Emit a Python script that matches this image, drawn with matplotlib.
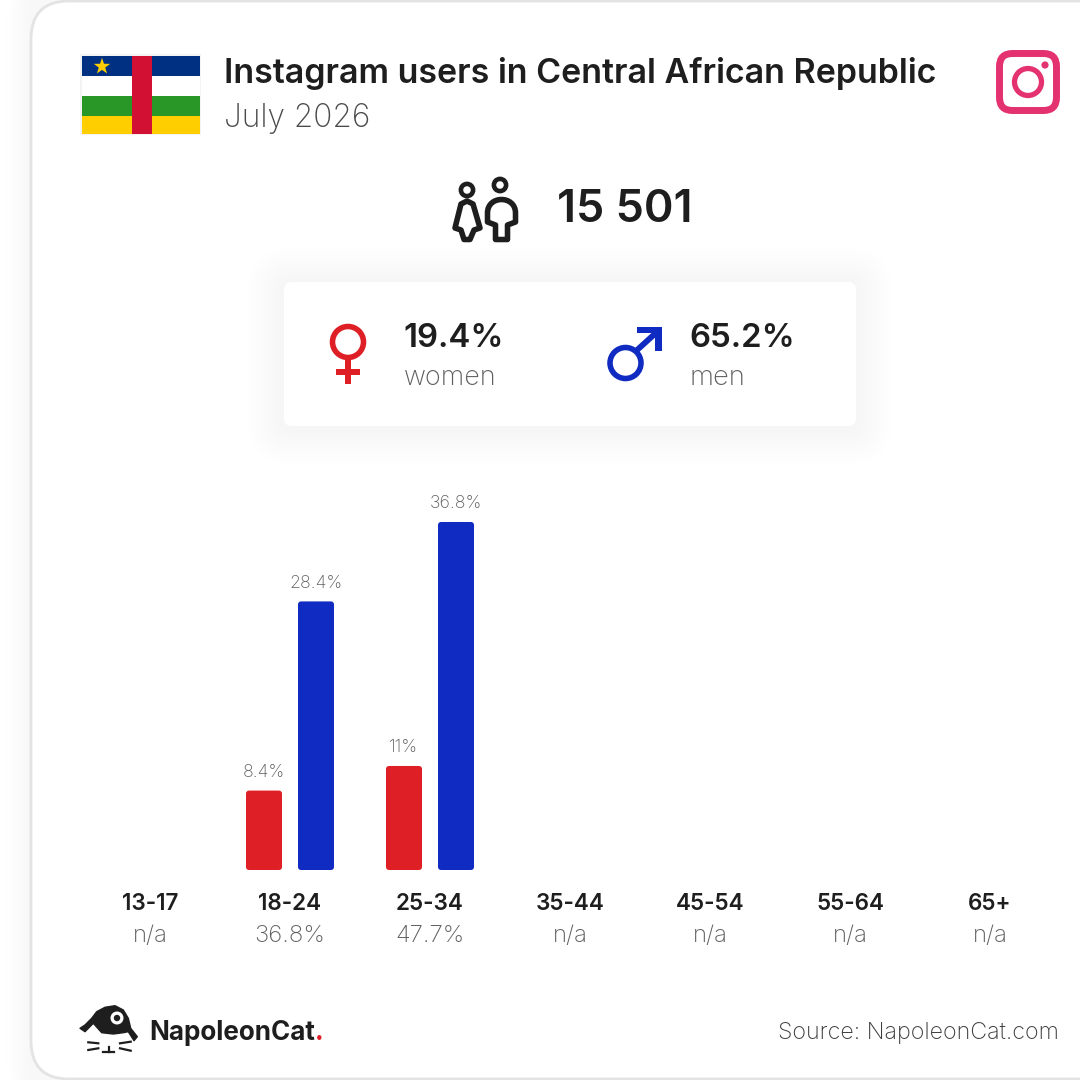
# Instagram users in Central African Republic - NapoleonCat card
import numpy as np
import matplotlib
matplotlib.use("Agg")
import matplotlib.pyplot as plt
from matplotlib.patches import FancyBboxPatch, Rectangle, Circle, Polygon, PathPatch
from matplotlib.path import Path

plt.rcParams['font.family'] = ['Inter', 'DejaVu Sans']

# data
age_groups = ["13-17", "18-24", "25-34", "35-44", "45-54", "55-64", "65+"]
women_pct = [np.nan, 8.4, 11, np.nan, np.nan, np.nan, np.nan]
men_pct = [np.nan, 28.4, 36.8, np.nan, np.nan, np.nan, np.nan]
group_totals = ["n/a", "36.8%", "47.7%", "n/a", "n/a", "n/a", "n/a"]
title = "Instagram users in Central African Republic"
subtitle = "July 2026"
total_users = "15 501"
women_share = "19.4%"
men_share = "65.2%"

DARK = "#1e1e1e"
GREY = "#5f5f5f"
RED = "#de1f26"
BLUE = "#0f2bc1"
PINK = "#e4316f"


def px(size):
    # font size in pixels -> points at dpi 100
    return size * 0.72


def rounded(ax, x, y, w, h, r, **kw):
    p = FancyBboxPatch((x, y), w, h, boxstyle=f"round,pad=0,rounding_size={r}", **kw)
    ax.add_patch(p)
    return p


def grey_level(v):
    return (v / 255, v / 255, v / 255)


fig = plt.figure(figsize=(10.8, 10.8), dpi=100, facecolor="white")

# everything that is not the bars lives on a pixel canvas
bg = fig.add_axes([0, 0, 1, 1])
bg.set_xlim(0, 1080)
bg.set_ylim(1080, 0)
bg.axis("off")

# soft shadow left of the card (opaque greys, outside to inside), then the card
for i in range(7, 0, -1):
    rounded(bg, 31 - i * 3.5, -30, 1200, 1140, 40 + i * 3, fc=grey_level(255 - (8 - i)), ec="none")
rounded(bg, 31, 1, 1200, 1078, 38, fc="white", ec="#e3e3e3", lw=2)

# flag
bg.add_patch(Rectangle((80, 54), 121, 81, fc="#f3f3f3", ec="none"))
bg.add_patch(Rectangle((82, 56), 118, 20, fc="#003082", ec="none"))
bg.add_patch(Rectangle((82, 76), 118, 20, fc="white", ec="none"))
bg.add_patch(Rectangle((82, 96), 118, 20, fc="#289728", ec="none"))
bg.add_patch(Rectangle((82, 116), 118, 18, fc="#ffce00", ec="none"))
bg.add_patch(Rectangle((132, 56), 20, 78, fc="#d21034", ec="none"))
ang = np.radians(-90 + 36 * np.arange(10))
rad = np.where(np.arange(10) % 2 == 0, 8.6, 3.4)
bg.add_patch(Polygon(np.c_[102 + rad * np.cos(ang), 66.5 + rad * np.sin(ang)], fc="#ffce00", ec="none"))

# instagram logo
rounded(bg, 999.5, 53.5, 57, 57, 13, fc="none", ec=PINK, lw=5)
bg.add_patch(Circle((1028, 82), 13.5, fc="none", ec=PINK, lw=3.8))
bg.add_patch(Circle((1045, 65), 3.6, fc=PINK, ec="none"))

# header text
bg.text(224, 70, title, fontsize=px(34), fontweight="semibold", color=DARK, va="center_baseline")
bg.text(224, 115, subtitle, fontsize=px(31.7), fontweight="light", color="#4a4a4a", va="center_baseline")

# people icon
bg.add_patch(Circle((467, 190), 6.1, fc="none", ec=DARK, lw=3.3))
bg.add_patch(Circle((500, 185), 6.1, fc="none", ec=DARK, lw=3.3))
bg.add_patch(Polygon([(467, 201), (461, 204), (455, 228), (461, 230), (464, 239.5), (470, 239.5), (474, 230),
                      (480, 228), (473, 204)],
                     closed=True, fc="none", ec=DARK, lw=4, joinstyle="round"))
man_verts = [(495.5, 239.5), (495.5, 225), (487.5, 222), (487.5, 213), (487.5, 195), (515.5, 195), (515.5, 213),
             (515.5, 222), (507.5, 225), (507.5, 239.5), (495.5, 239.5)]
man_codes = [Path.MOVETO, Path.LINETO, Path.LINETO, Path.LINETO, Path.CURVE4, Path.CURVE4, Path.CURVE4,
             Path.LINETO, Path.LINETO, Path.LINETO, Path.CLOSEPOLY]
bg.add_patch(PathPatch(Path(man_verts, man_codes), fc="none", ec=DARK, lw=4, joinstyle="round"))
bg.text(557, 205, total_users, fontsize=px(45), fontweight="semibold", color=DARK, va="center_baseline")

# panel with shadow (opaque greys, outside to inside)
for i in range(9, 0, -1):
    rounded(bg, 284 - i * 4, 284 - i * 4, 572 + i * 8, 144 + i * 8, 8 + i * 4, fc=grey_level(255 - (10 - i)), ec="none")
rounded(bg, 284, 282, 572, 144, 8, fc="white", ec="none")

# female sign
bg.add_patch(Circle((348, 342), 15.5, fc="none", ec=RED, lw=4))
bg.add_patch(Rectangle((345, 358), 6, 26, fc=RED, ec="none"))
bg.add_patch(Rectangle((336, 369), 24, 6, fc=RED, ec="none"))

# male sign
bg.add_patch(Circle((625.5, 363), 15.5, fc="none", ec=BLUE, lw=4))
bg.add_patch(Polygon([(637, 327), (662, 327), (662, 351), (655, 351), (655, 333), (637, 333)], fc=BLUE, ec="none"))
bg.plot([636, 658], [351, 331], color=BLUE, lw=4.2, solid_capstyle="butt")

bg.text(403, 335, women_share, fontsize=px(33), fontweight="semibold", color=DARK, va="center_baseline")
bg.text(404, 375, "women", fontsize=px(27), fontweight="light", color=GREY, va="center_baseline")
bg.text(689, 335, men_share, fontsize=px(33), fontweight="semibold", color=DARK, va="center_baseline")
bg.text(690, 375, "men", fontsize=px(27.5), fontweight="light", color=GREY, va="center_baseline")

# bar chart, one axis unit = one age group
ax = fig.add_axes([80 / 1080, (1080 - 870) / 1080, 980 / 1080, 370 / 1080])
ax.patch.set_alpha(0)
ax.set_xlim(-0.5, 6.5)
ax.set_ylim(0, 370 / 9.457)
ax.axis("off")
xs = np.arange(len(age_groups))
bar_w = 36 / 140
offset = 26 / 140
aspect = 140 / 9.457
for pos, vals, col in [(xs - offset, women_pct, RED), (xs + offset, men_pct, BLUE)]:
    bars = ax.bar(pos, vals, width=bar_w, color=col)
    for b, v in zip(bars, vals):
        b.set_visible(False)
        if np.isnan(v):
            continue
        # same geometry, slightly rounded corners
        ax.add_patch(FancyBboxPatch((b.get_x(), 0), b.get_width(), b.get_height(),
                                    boxstyle=f"round,pad=0,rounding_size={3 / 140}",
                                    mutation_aspect=aspect, fc=col, ec="none"))
        ax.annotate(f"{v:g}%", (b.get_x() + b.get_width() / 2, v), xytext=(0, 20), textcoords="offset pixels",
                    ha="center", va="center_baseline", fontsize=px(17.7), fontweight="light", color=GREY)

# age labels
for x, lab, tot in zip(xs, age_groups, group_totals):
    bx = 150 + 140 * x
    bg.text(bx, 902, lab, ha="center", va="center_baseline", fontsize=px(22.5), fontweight="semibold", color=DARK, zorder=5)
    bg.text(bx, 933.5, tot, ha="center", va="center_baseline", fontsize=px(24), fontweight="light", color=GREY, zorder=5)

# footer logo
hat = [(80, 1028.3), (85, 1025), (91.7, 1018.3), (96.7, 1011.7), (105, 1007.3), (115, 1005.7), (123.3, 1010),
       (128.3, 1018.3), (130.7, 1028.3), (137.3, 1036.7), (134, 1040.7), (128.3, 1031.7), (123.3, 1032.7),
       (113.3, 1034), (101.7, 1032.7), (93.3, 1023.3), (85, 1031.7)]
bg.add_patch(Polygon(hat, fc=DARK, ec=DARK, lw=1, joinstyle="round"))
bg.add_patch(Circle((117, 1018), 6.5, fc="white", ec="none"))
bg.add_patch(Circle((117, 1018), 3.2, fc=DARK, ec="none"))
for xa, ya, xb, yb in [(88.3, 1042.3, 98.3, 1043.3), (88.3, 1050, 98.3, 1048.3), (120, 1043.3, 130.7, 1041.7),
                       (120, 1048.3, 130.7, 1050.7), (103.3, 1052.3, 114, 1052.3), (109, 1047.3, 109, 1052.3)]:
    bg.plot([xa, xb], [ya, yb], color=DARK, lw=1.6)

bg.text(149, 1030, "NapoleonCat", fontsize=px(26), fontweight="bold", color=DARK, va="center_baseline")
bg.text(315, 1030, ".", fontsize=px(26), fontweight="bold", color=RED, va="center_baseline")
bg.text(1059, 1031, "Source: NapoleonCat.com", ha="right", fontsize=px(23.3), fontweight="light", color="#3c3c3c", va="center_baseline")

fig.savefig("out.png", dpi=100)
